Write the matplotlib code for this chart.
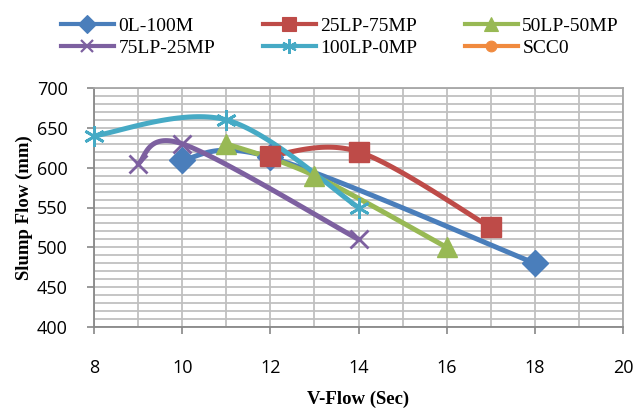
import numpy as np
import matplotlib
matplotlib.use("Agg")
import matplotlib.pyplot as plt
from matplotlib.ticker import MultipleLocator

# data
names = ["0L-100M", "25LP-75MP", "50LP-50MP", "75LP-25MP", "100LP-0MP", "SCC0"]
vflow_0L = [10, 12, 18]
slump_0L = [610, 613, 480]
vflow_25LP = [12, 14, 17]
slump_25LP = [615, 620, 525]
vflow_50LP = [11, 13, 16]
slump_50LP = [630, 590, 500]
vflow_75LP = [9, 10, 14]
slump_75LP = [605, 630, 510]
vflow_100LP = [8, 11, 14]
slump_100LP = [640, 660, 550]
vflow_scc0 = []
slump_scc0 = []

colors = ["#4A7EBB", "#BE4B48", "#98B954", "#7D60A0", "#46AAC5", "#F08A3E"]
markers = ["D", "s", "^", "x", (6, 2, 0), "o"]
msizes = [13, 14, 14, 13, 15, 11]

xlim = (8, 20)
ylim = (400, 700)


def smooth(xs, ys, ax_w, ax_h, n=40):
    # excel style smoothed line (bezier with catmull-rom control points), done in pixel space
    if len(xs) < 3:
        return xs, ys
    px = (np.array(xs, float) - xlim[0]) / (xlim[1] - xlim[0]) * ax_w
    py = (np.array(ys, float) - ylim[0]) / (ylim[1] - ylim[0]) * ax_h
    pts = np.column_stack([px, py])
    out = []
    for i in range(len(pts) - 1):
        p0 = pts[i - 1] if i > 0 else pts[i]
        p1 = pts[i]
        p2 = pts[i + 1]
        p3 = pts[i + 2] if i + 2 < len(pts) else pts[i + 1]
        c1 = p1 + (p2 - p0) / 6.0
        c2 = p2 - (p3 - p1) / 6.0
        t = np.linspace(0, 1, n)[:, None]
        seg = (1 - t) ** 3 * p1 + 3 * (1 - t) ** 2 * t * c1 + 3 * (1 - t) * t ** 2 * c2 + t ** 3 * p2
        out.append(seg if i == 0 else seg[1:])
    out = np.vstack(out)
    sx = out[:, 0] / ax_w * (xlim[1] - xlim[0]) + xlim[0]
    sy = out[:, 1] / ax_h * (ylim[1] - ylim[0]) + ylim[0]
    return sx, sy


fig = plt.figure(figsize=(6.36, 4.09), dpi=100)
ax_l, ax_r, ax_t, ax_b = 94, 623, 88, 327
ax = fig.add_axes([ax_l / 636, 1 - ax_b / 409, (ax_r - ax_l) / 636, (ax_b - ax_t) / 409])
ax_w, ax_h = ax_r - ax_l, ax_b - ax_t

series = [(vflow_0L, slump_0L), (vflow_25LP, slump_25LP), (vflow_50LP, slump_50LP),
          (vflow_75LP, slump_75LP), (vflow_100LP, slump_100LP), (vflow_scc0, slump_scc0)]

handles = []
for i, (xs, ys) in enumerate(series):
    sx, sy = smooth(xs, ys, ax_w, ax_h)
    ax.plot(sx, sy, color=colors[i], lw=3.6, solid_capstyle="round", zorder=3)
    mew = 2 if markers[i] == "x" or isinstance(markers[i], tuple) else 1
    ax.plot(xs, ys, ls="none", marker=markers[i], ms=msizes[i], color=colors[i],
            mec=colors[i], mew=mew, zorder=4, clip_on=False)
    h, = ax.plot([], [], color=colors[i], lw=3.0, marker=markers[i], ms=msizes[i] * 0.7,
                 mec=colors[i], mew=mew * 0.8)
    handles.append(h)

ax.set_xlim(*xlim)
ax.set_ylim(*ylim)
ax.xaxis.set_major_locator(MultipleLocator(2))
ax.xaxis.set_minor_locator(MultipleLocator(1))
ax.yaxis.set_major_locator(MultipleLocator(50))
ax.yaxis.set_minor_locator(MultipleLocator(10))
ax.grid(True, which="both", color="#C0C0C0", lw=1.3)
ax.set_axisbelow(True)
for s in ax.spines.values():
    s.set_color("#A6A6A6")
    s.set_linewidth(1.3)
ax.spines["bottom"].set_color("#888888")
ax.spines["left"].set_color("#888888")
ax.tick_params(which="major", direction="out", length=5, color="#888888", width=1.2,
               labelsize=13, labelcolor="black")
ax.tick_params(axis="x", which="major", pad=18)
ax.tick_params(axis="y", which="major", pad=14)
ax.tick_params(which="minor", length=0)
for lab in ax.get_xticklabels() + ax.get_yticklabels():
    lab.set_family("Open Sans")

ax.set_xlabel("V-Flow (Sec)", family="Liberation Serif", weight="bold", fontsize=13.5, labelpad=10)
ax.set_ylabel("Slump Flow (mm)", family="Liberation Serif", weight="bold", fontsize=13.5, labelpad=3)

# legend: three columns placed at fixed x like the excel legend
col_x = [61, 263, 465]
for c in range(3):
    leg = fig.legend([handles[c], handles[c + 3]], [names[c], names[c + 3]],
                     loc="upper left", bbox_to_anchor=(col_x[c] / 636, 1 - 17 / 409),
                     frameon=False, prop={"family": "Liberation Serif", "size": 14},
                     handlelength=2.7, handletextpad=0.25, labelspacing=0.25,
                     borderpad=0, borderaxespad=0)

fig.savefig("out.png", dpi=100)
